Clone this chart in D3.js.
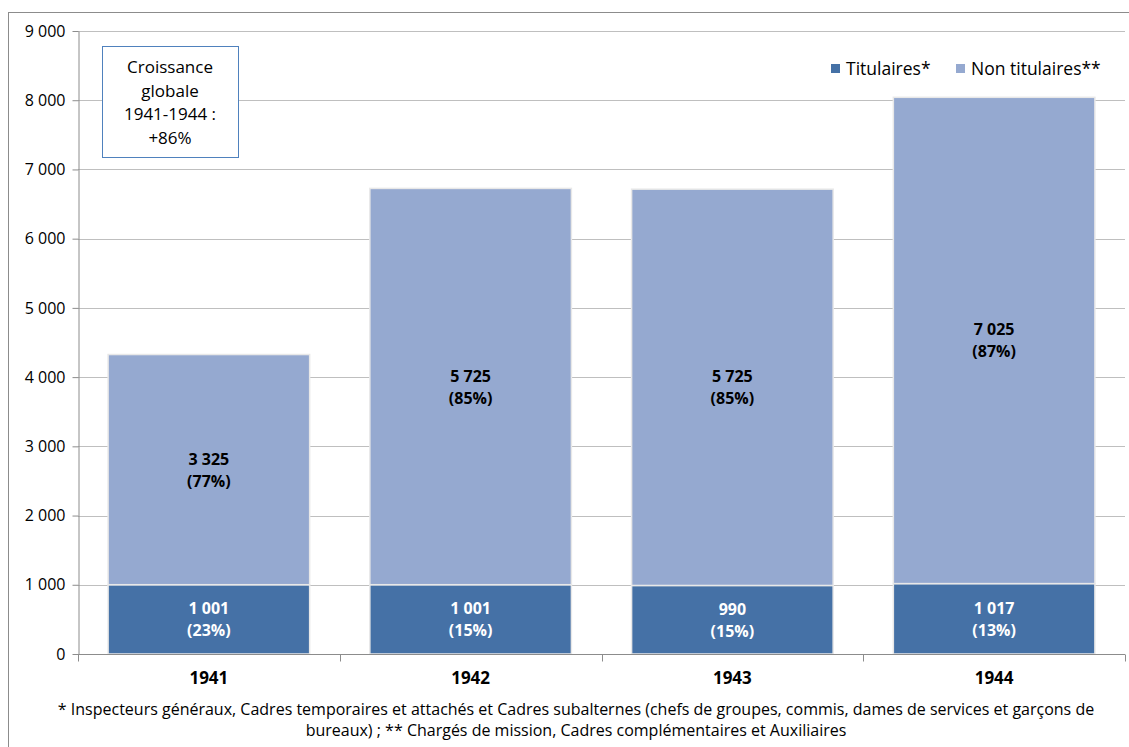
<!DOCTYPE html>
<html><head><meta charset="utf-8">
<script src="https://cdn.jsdelivr.net/npm/d3@7"></script>
<style>
html,body{margin:0;padding:0;background:#fff;}
svg{display:block;font-family:"Open Sans","Lato",sans-serif;}
</style></head>
<body><svg id="c" width="1129" height="747"></svg>
<script>
const categories = ["1941","1942","1943","1944"];
const titulaires = [1001, 1001, 990, 1017];
const nonTitulaires = [3325, 5725, 5725, 7025];
const pctTitulaires = ["23%","15%","15%","13%"];
const pctNonTitulaires = ["77%","85%","85%","87%"];
const yTicks = [0,1000,2000,3000,4000,5000,6000,7000,8000,9000];
const seriesNames = ["Titulaires*","Non titulaires**"];
const colors = ["#4571a6","#95a9d0"];
const footnote = ["* Inspecteurs généraux, Cadres temporaires et attachés et Cadres subalternes (chefs de groupes, commis, dames de services et garçons de",
                  "bureaux) ; ** Chargés de mission, Cadres complémentaires et Auxiliaires"];
const boxText = ["Croissance","globale","1941-1944 :","+86%"];

const svg = d3.select("#c");
const fmt = v => d3.format(",")(v).replace(/,/g, " ");
const fmtTick = v => d3.format(",")(v).replace(/,/g, " ");

// outer frame
svg.append("rect").attr("x",8.5).attr("y",12.5).attr("width",1130).attr("height",760)
  .attr("fill","none").attr("stroke","#8c8c8c").attr("stroke-width",1);

const L = 78, R = 1125, T = 31, B = 654;
const x = d3.scaleBand().domain(categories).range([L,R]).paddingInner(0.23).paddingOuter(0.115);
const y = d3.scaleLinear().domain([0,9000]).range([B,T]);

// gridlines
svg.append("g").selectAll("line").data(yTicks.filter(d=>d>0)).join("line")
  .attr("x1",L).attr("x2",R).attr("y1",d=>Math.round(y(d))+0.5).attr("y2",d=>Math.round(y(d))+0.5)
  .attr("stroke","#bfbfbf");

// y axis
const yAxis = svg.append("g").attr("transform",`translate(${L+0.5},0)`)
  .call(d3.axisLeft(y).tickValues(yTicks).tickFormat(fmtTick).tickSize(6).tickSizeOuter(0));
yAxis.select(".domain").attr("stroke","#8c8c8c");
yAxis.selectAll(".tick line").attr("stroke","#8c8c8c");
yAxis.selectAll(".tick text").attr("font-size",16).attr("fill","#000").attr("x",-13)
  .attr("font-family","'Open Sans',sans-serif");

// bars
const stackData = categories.map((c,i)=>({c, t:titulaires[i], n:nonTitulaires[i], pt:pctTitulaires[i], pn:pctNonTitulaires[i]}));
const g = svg.append("g");
g.selectAll("rect.t").data(stackData).join("rect").attr("class","t")
  .attr("x",d=>x(d.c)).attr("width",x.bandwidth())
  .attr("y",d=>y(d.t)).attr("height",d=>y(0)-y(d.t))
  .attr("fill",colors[0]).attr("stroke","#e8e8e8").attr("stroke-width",1.5);
g.selectAll("rect.n").data(stackData).join("rect").attr("class","n")
  .attr("x",d=>x(d.c)).attr("width",x.bandwidth())
  .attr("y",d=>y(d.t+d.n)).attr("height",d=>y(d.t)-y(d.t+d.n))
  .attr("fill",colors[1]).attr("stroke","#e8e8e8").attr("stroke-width",1.5);

// x axis
const xAxisG = svg.append("g").attr("transform",`translate(0,${B+0.5})`);
xAxisG.append("line").attr("x1",L).attr("x2",R).attr("stroke","#8c8c8c");
const bounds = [L, ...categories.map(c=>x(c)+x.bandwidth()+x.step()*x.paddingInner()/2)];
bounds[bounds.length-1] = R;
xAxisG.selectAll("line.tk").data(bounds).join("line").attr("class","tk")
  .attr("x1",d=>Math.round(d)+0.5).attr("x2",d=>Math.round(d)+0.5).attr("y1",0).attr("y2",7).attr("stroke","#8c8c8c");
svg.append("g").selectAll("text").data(categories).join("text")
  .attr("x",d=>x(d)+x.bandwidth()/2).attr("y",684).attr("text-anchor","middle")
  .attr("font-size",17).attr("font-weight","bold").text(d=>d);

// bar labels
function labels(cls, getMid, getVal, getPct, color){
  const lg = svg.append("g").selectAll("g."+cls).data(stackData).join("g");
  lg.append("text").attr("x",d=>x(d.c)+x.bandwidth()/2).attr("y",d=>getMid(d)-5)
    .attr("text-anchor","middle").attr("font-size",16).attr("font-weight","bold").attr("fill",color)
    .text(d=>fmt(getVal(d)));
  lg.append("text").attr("x",d=>x(d.c)+x.bandwidth()/2).attr("y",d=>getMid(d)+17)
    .attr("text-anchor","middle").attr("font-size",16).attr("font-weight","bold").attr("fill",color)
    .text(d=>"("+getPct(d)+")");
}
labels("lt", d=>(y(0)+y(d.t))/2, d=>d.t, d=>d.pt, "#fff");
labels("ln", d=>(y(d.t)+y(d.t+d.n))/2, d=>d.n, d=>d.pn, "#000");

// legend
const leg = svg.append("g");
const legX = [831, 956];
seriesNames.forEach((s,i)=>{
  leg.append("rect").attr("x",legX[i]).attr("y",64).attr("width",9).attr("height",9).attr("fill",colors[i]);
  leg.append("text").attr("x",legX[i]+15).attr("y",75).attr("font-size",17.5).text(s);
});

// annotation box
svg.append("rect").attr("x",102.5).attr("y",46.5).attr("width",136).attr("height",111)
  .attr("fill","#fff").attr("stroke","#4f81bd").attr("stroke-width",1);
svg.append("g").selectAll("text").data(boxText).join("text")
  .attr("x",170).attr("y",(d,i)=>73+i*23.5).attr("text-anchor","middle").attr("font-size",17).text(d=>d);

// footnote
svg.append("g").selectAll("text").data(footnote).join("text")
  .attr("x",576).attr("y",(d,i)=>715+i*21).attr("text-anchor","middle").attr("font-size",16).text(d=>d);
</script></body></html>
